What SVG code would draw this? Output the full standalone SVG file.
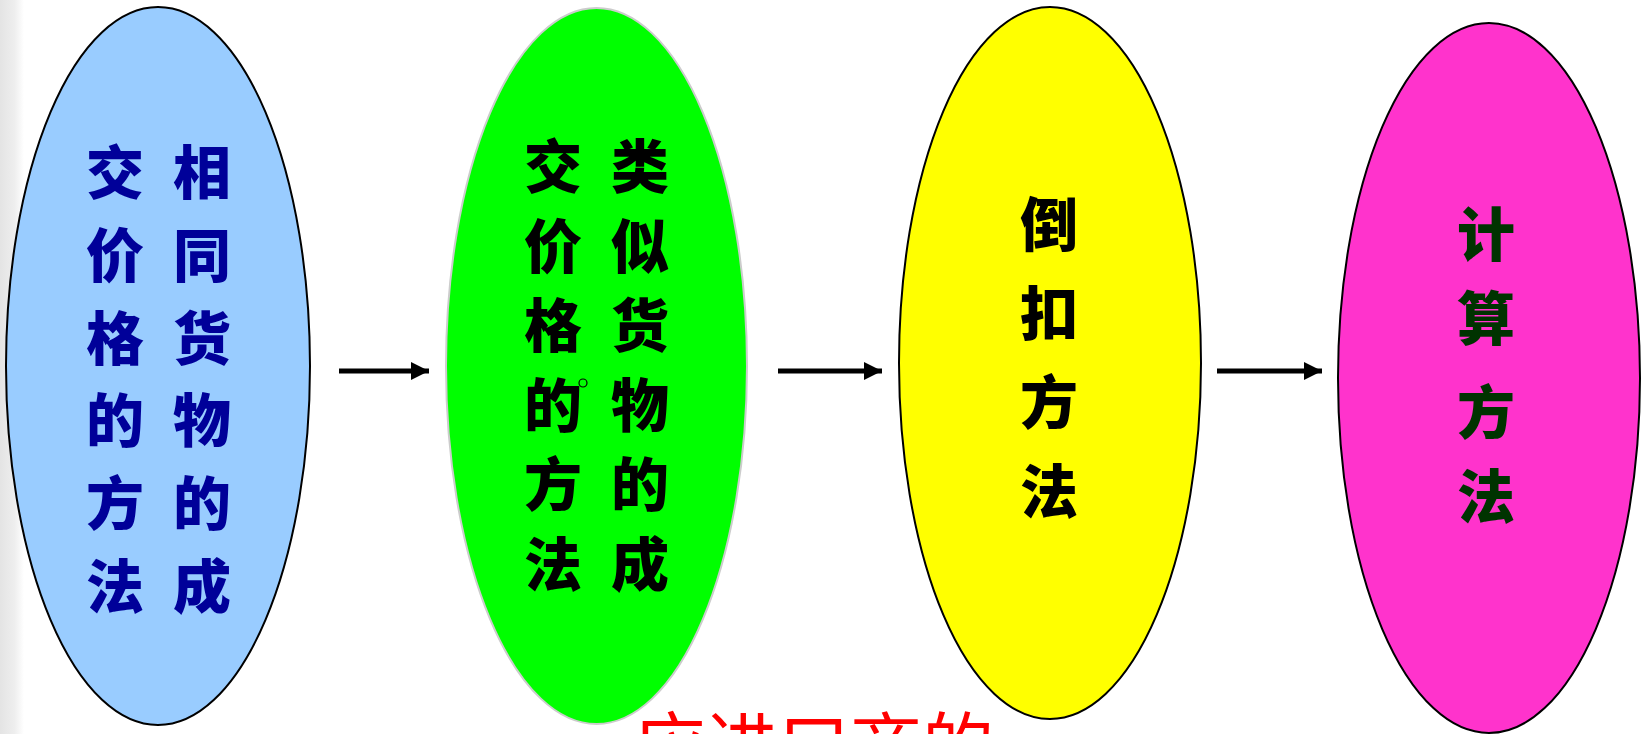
<svg xmlns="http://www.w3.org/2000/svg" width="1641" height="734" viewBox="0 0 1641 734">
<defs>
<linearGradient id="strip" x1="0" y1="0" x2="1" y2="0">
<stop offset="0" stop-color="#e4e4e4"/>
<stop offset="0.6" stop-color="#eeeeee"/>
<stop offset="1" stop-color="#ffffff"/>
</linearGradient>
<marker id="arrow" markerUnits="userSpaceOnUse" markerWidth="20" markerHeight="18" refX="18" refY="9" orient="auto">
<polygon points="0,0 18,9 0,18"/>
</marker>
<style>
.node ellipse { stroke-width: 2; }
.cjk { font-family: "Noto Sans CJK SC", sans-serif; font-weight: 900; font-size: 58px; text-anchor: middle; }
.blue { fill: #000099; }
.black { fill: #000000; }
.dgreen { fill: #003300; }
.conn line { stroke: #000; stroke-width: 5; marker-end: url(#arrow); }
.red { font-family: "Noto Sans CJK SC", sans-serif; font-size: 72px; fill: #ff0000; }
</style>
</defs>
<rect width="1641" height="734" fill="#ffffff"/>
<rect x="0" y="0" width="24" height="734" fill="url(#strip)"/>

<g id="node1" class="node">
<ellipse cx="158" cy="366" rx="152" ry="359" fill="#99ccff" stroke="#000"/>
<text class="cjk blue"><tspan x="202" y="194">相</tspan><tspan x="202" y="277">同</tspan><tspan x="202" y="360">货</tspan><tspan x="202" y="442">物</tspan><tspan x="202" y="525">的</tspan><tspan x="202" y="608">成</tspan></text>
<text class="cjk blue"><tspan x="115" y="194">交</tspan><tspan x="115" y="277">价</tspan><tspan x="115" y="360">格</tspan><tspan x="115" y="442">的</tspan><tspan x="115" y="525">方</tspan><tspan x="115" y="608">法</tspan></text>
</g>

<g id="node2" class="node">
<ellipse cx="596.5" cy="366" rx="150.5" ry="358" fill="#00ff00" stroke="#cccccc"/>
<text class="cjk black"><tspan x="640" y="188">类</tspan><tspan x="640" y="268">似</tspan><tspan x="640" y="347">货</tspan><tspan x="640" y="427">物</tspan><tspan x="640" y="506">的</tspan><tspan x="640" y="586">成</tspan></text>
<text class="cjk black"><tspan x="553" y="188">交</tspan><tspan x="553" y="268">价</tspan><tspan x="553" y="347">格</tspan><tspan x="553" y="427">的</tspan><tspan x="553" y="506">方</tspan><tspan x="553" y="586">法</tspan></text>
<circle cx="583" cy="383" r="4" fill="none" stroke="#000" stroke-width="1.2"/>
</g>

<g id="node3" class="node">
<ellipse cx="1050" cy="363" rx="151" ry="356" fill="#ffff00" stroke="#000"/>
<text class="cjk black"><tspan x="1049" y="246">倒</tspan><tspan x="1049" y="335">扣</tspan><tspan x="1049" y="424">方</tspan><tspan x="1049" y="513">法</tspan></text>
</g>

<g id="node4" class="node">
<ellipse cx="1489" cy="378" rx="151" ry="355" fill="#ff33cc" stroke="#000"/>
<text class="cjk dgreen"><tspan x="1486" y="256">计</tspan><tspan x="1486" y="340">算</tspan><tspan x="1486" y="434">方</tspan><tspan x="1486" y="518">法</tspan></text>
</g>

<g id="connectors" class="conn">
<line x1="339" y1="371" x2="429" y2="371"/>
<line x1="778" y1="371" x2="882" y2="371"/>
<line x1="1217" y1="371" x2="1322" y2="371"/>
</g>

<text id="bottom-text" class="red" x="634" y="772">应进口商的</text>
</svg>
